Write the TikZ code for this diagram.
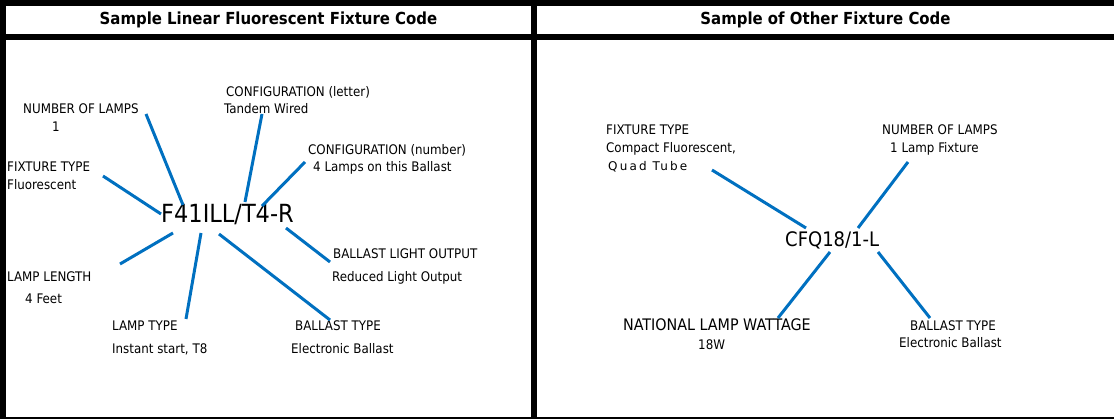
\documentclass[tikz,border=0pt]{standalone}
\usepackage{fontspec}
\setmainfont{DejaVu Sans Condensed}
\newfontfamily\condfont{DejaVu Sans Condensed}
\newfontfamily\spacedfont[LetterSpace=18]{DejaVu Sans}
\definecolor{lineblue}{RGB}{0,112,192}
\begin{document}
\begin{tikzpicture}[x=1pt,y=-1pt,
  lbl/.style={anchor=base west, inner sep=0pt, font=\fontsize{13.2}{15}\selectfont},
  biglbl/.style={anchor=base west, inner sep=0pt, font=\fontsize{15.9}{18}\selectfont},
  ttl/.style={inner sep=0pt, font=\bfseries\fontsize{16.6}{19}\selectfont},
  codetxt/.style={anchor=base west, inner sep=0pt, font=\condfont\fontsize{25}{30}\selectfont},
  codetxtsmall/.style={anchor=base west, inner sep=0pt, font=\condfont\fontsize{20}{24}\selectfont},
  lead/.style={draw=lineblue, line width=3pt}]
\useasboundingbox (0,0) rectangle (1114,419);
% frame
\fill[black] (0,0) rectangle (1114,6);
\fill[black] (0,0) rectangle (6,419);
\fill[black] (0,34) rectangle (1114,40);
\fill[black] (531,0) rectangle (537,419);
\fill[black] (0,417.5) rectangle (1114,419);
% titles
\node[ttl] (t1) at (268.5,20) {Sample Linear Fluorescent Fixture Code};
\node[ttl] (t2) at (825.5,20) {Sample of Other Fixture Code};
% left panel texts
\node[lbl] (nl) at (23,113.5) {NUMBER OF LAMPS};
\node[lbl] (nlv) at (52,131.5) {1};
\node[lbl] (cl) at (226,96.5) {CONFIGURATION (letter)};
\node[lbl] (clv) at (224,113.5) {Tandem Wired};
\node[lbl] (cn) at (308,154.5) {CONFIGURATION (number)};
\node[lbl] (cnv) at (313,171.5) {4 Lamps on this Ballast};
\node[lbl] (ft) at (7,171.5) {FIXTURE TYPE};
\node[lbl] (ftv) at (7,189.5) {Fluorescent};
\node[codetxt] (code1) at (161,223) {F41ILL/T4-R};
\node[lbl] (blo) at (333,258.5) {BALLAST LIGHT OUTPUT};
\node[lbl] (blov) at (332,281.5) {Reduced Light Output};
\node[lbl] (ll) at (7,281.5) {LAMP LENGTH};
\node[lbl] (llv) at (25,303.5) {4 Feet};
\node[lbl] (lt) at (112,330.5) {LAMP TYPE};
\node[lbl] (ltv) at (112,353.5) {Instant start, T8};
\node[lbl] (bt) at (295,330.5) {BALLAST TYPE};
\node[lbl] (btv) at (291,353.5) {Electronic Ballast};
% left panel leader ends
\coordinate (a1) at (146,114); \coordinate (a2) at (183,205);
\coordinate (b1) at (262,114); \coordinate (b2) at (245,202);
\coordinate (c1) at (305,162); \coordinate (c2) at (262,206);
\coordinate (d1) at (103,176); \coordinate (d2) at (161,214);
\coordinate (e1) at (286,228); \coordinate (e2) at (330,262);
\coordinate (f1) at (120,264); \coordinate (f2) at (173,233);
\coordinate (g1) at (201,233); \coordinate (g2) at (186,319);
\coordinate (h1) at (219,234); \coordinate (h2) at (330,320);
\draw[lead] (a1) -- (a2);
\draw[lead] (b1) -- (b2);
\draw[lead] (c1) -- (c2);
\draw[lead] (d1) -- (d2);
\draw[lead] (e1) -- (e2);
\draw[lead] (f1) -- (f2);
\draw[lead] (g1) -- (g2);
\draw[lead] (h1) -- (h2);
% right panel texts
\node[lbl] (rft) at (606,134.5) {FIXTURE TYPE};
\node[lbl] (rftv) at (606,152.5) {Compact Fluorescent,};
\node[lbl, font=\spacedfont\fontsize{12}{14}\selectfont] (rftw) at (608,170.5) {Quad Tube};
\node[lbl] (rnl) at (882,134.5) {NUMBER OF LAMPS};
\node[lbl] (rnlv) at (890,152.5) {1 Lamp Fixture};
\node[codetxtsmall] (code2) at (785,247) {CFQ18/1-L};
\node[biglbl] (nw) at (623,331) {NATIONAL LAMP WATTAGE};
\node[lbl] (nwv) at (698,349.5) {18W};
\node[lbl] (rbt) at (910,330.5) {BALLAST TYPE};
\node[lbl] (rbtv) at (899,347.5) {Electronic Ballast};
% right panel leader ends
\coordinate (p1) at (712,170); \coordinate (p2) at (806,228);
\coordinate (q1) at (908,162); \coordinate (q2) at (858,228);
\coordinate (r1) at (830,252); \coordinate (r2) at (778,318);
\coordinate (s1) at (878,252); \coordinate (s2) at (930,318);
\draw[lead] (p1) -- (p2);
\draw[lead] (q1) -- (q2);
\draw[lead] (r1) -- (r2);
\draw[lead] (s1) -- (s2);
\end{tikzpicture}
\end{document}
